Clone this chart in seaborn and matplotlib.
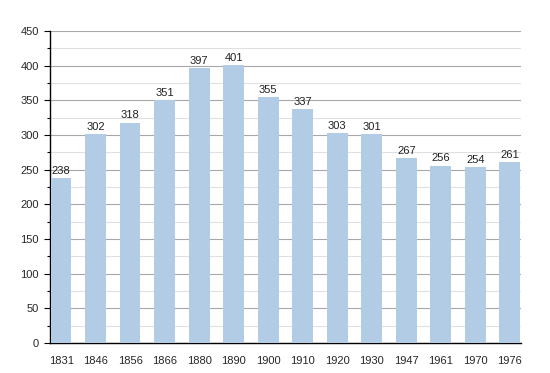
import matplotlib
matplotlib.use("Agg")
import matplotlib.pyplot as plt
import seaborn as sns
import pandas as pd
from matplotlib.ticker import MultipleLocator

years = ["1831", "1846", "1856", "1866", "1880", "1890", "1900", "1910",
         "1920", "1930", "1947", "1961", "1970", "1976"]
population = [238, 302, 318, 351, 397, 401, 355, 337, 303, 301, 267, 256, 254, 261]

df = pd.DataFrame({"year": years, "pop": population})

sns.set_theme(style="white")
plt.rcParams['font.family'] = ['Liberation Sans', 'DejaVu Sans']

fig = plt.figure(figsize=(5.5, 3.73), dpi=100)
ax = fig.add_axes([0.091, 0.080, 0.856, 0.837])

sns.barplot(data=df, x="year", y="pop", color="#b3cce6", saturation=1,
            width=0.6, ax=ax, zorder=3, linewidth=0, edgecolor="none")

ax.set_xlim(-0.32, 13.32)
ax.set_ylim(0, 450)
ax.yaxis.set_major_locator(MultipleLocator(50))
ax.yaxis.set_minor_locator(MultipleLocator(25))
ax.grid(which="major", axis="y", color="#a8a8a8", linewidth=0.8, zorder=0)
ax.grid(which="minor", axis="y", color="#e0e0e0", linewidth=0.8, zorder=0)
ax.set_axisbelow(True)

for s in ["top", "right"]:
    ax.spines[s].set_visible(False)
for s in ["left", "bottom"]:
    ax.spines[s].set_color("black")
    ax.spines[s].set_linewidth(1.0)

ax.tick_params(axis="y", which="major", left=True, length=4, width=0.8,
               labelsize=8, color="black", pad=4)
ax.tick_params(axis="y", which="minor", left=True, length=2, width=0.8, color="black")
ax.tick_params(axis="x", bottom=False, labelsize=8, pad=3)

ax.set_xlabel("")
ax.set_ylabel("")

for i, v in enumerate(population):
    ax.text(i, v + 3, str(v), ha="center", va="bottom", fontsize=8, color="#222222", zorder=5)

fig.savefig("out.png", dpi=100)
